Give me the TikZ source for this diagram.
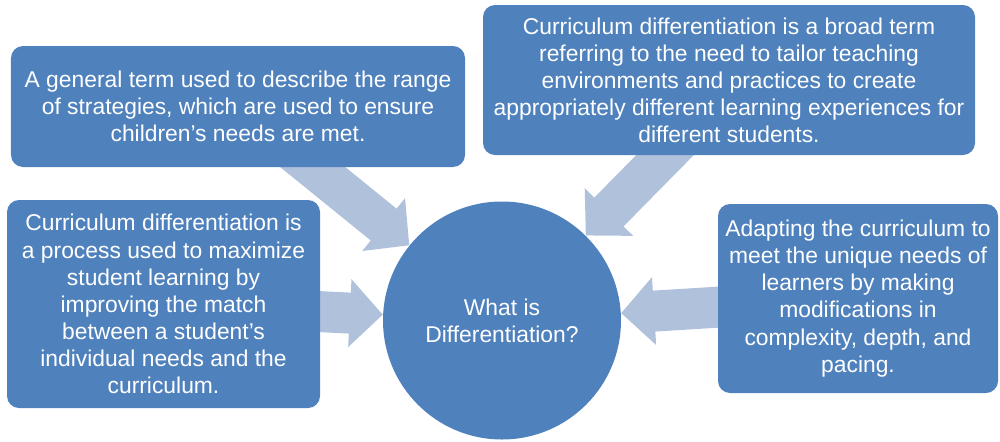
\documentclass[tikz,border=0pt]{standalone}
\usepackage{fontspec}
\setmainfont{Liberation Sans}
\usetikzlibrary{arrows.meta,backgrounds}
\definecolor{boxblue}{HTML}{4F81BD}
\definecolor{arrowblue}{HTML}{B0C1DC}
\tikzset{
  box/.style={fill=boxblue, rounded corners=0.24cm, text=white, align=center,
    inner sep=0pt, font=\fontsize{13}{15.4}\selectfont},
  hub/.style={circle, fill=boxblue, text=white, align=center, inner sep=0pt,
    minimum size=4.76cm, font=\fontsize{13}{15.4}\selectfont},
  feed/.style={draw=arrowblue, line width=0.82cm,
    -{Triangle[length=0.66cm,width=1.32cm,fill=arrowblue]}}
}

\begin{document}
\begin{tikzpicture}
        \useasboundingbox (0,0) rectangle (20,8.82) ;
        \node[box, minimum width=9.08cm, minimum height=2.42cm] (general) at (4.76,6.69)
        {A general term used to describe the range\\of strategies, which are used to ensure\\children’s needs are met.} ;
        \node[box, minimum width=9.84cm, minimum height=3.00cm] (broad) at (14.58,7.22)
        {Curriculum differentiation is a broad term\\referring to the need to tailor teaching\\environments and practices to create\\appropriately different learning experiences for\\different students.} ;
        \node[box, minimum width=6.26cm, minimum height=4.16cm] (process) at (3.27,2.74)
        {Curriculum differentiation is\\a process used to maximize\\student learning by\\improving the match\\between a student’s\\individual needs and the\\curriculum.} ;
        \node[box, minimum width=5.60cm, minimum height=3.78cm] (adapting) at (17.16,2.85)
        {Adapting the curriculum to\\meet the unique needs of\\learners by making\\modifications in\\complexity, depth, and\\pacing.} ;
        \node[hub] (what) at (10.04,2.41) {What is\\Differentiation?} ;
        % arrows behind the boxes
        \begin{scope}[on background layer]
        \draw[feed] (general.center) -- (what) ;
        \draw[feed] ([xshift=0.2cm]broad.center) -- (what) ;
        \draw[feed] (process.center) -- (what) ;
        \draw[feed] (adapting.center) -- (what) ;
        \end{scope}
      \end{tikzpicture}
\end{document}
